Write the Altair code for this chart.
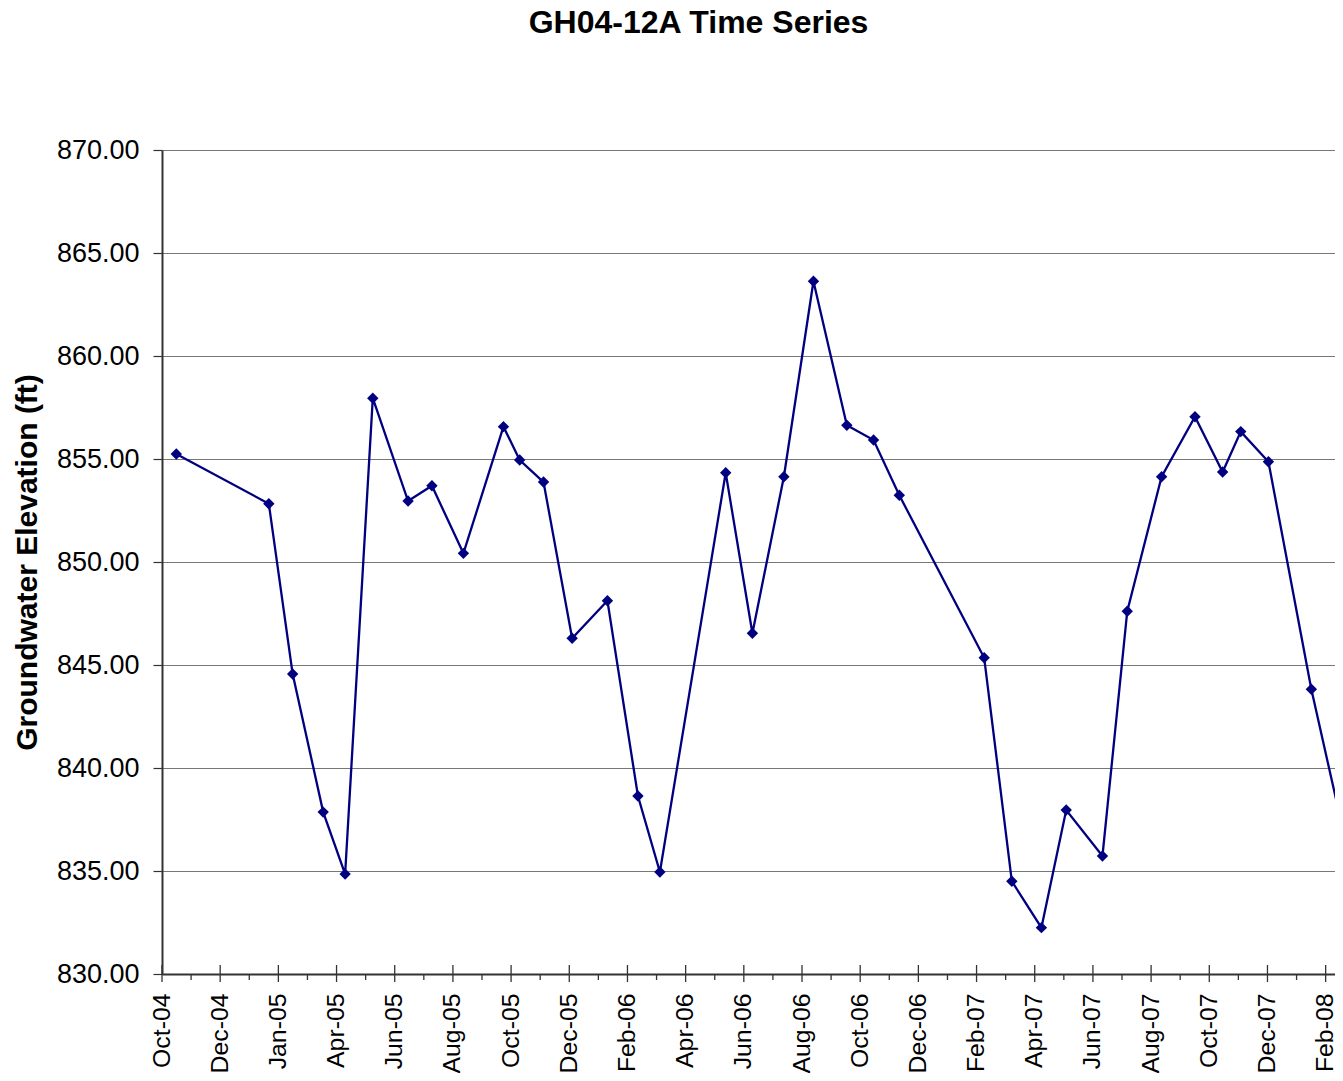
import altair as alt
import pandas as pd

# ---- data ----
dates = [
    "2004-10-16", "2005-01-21", "2005-02-15", "2005-03-19", "2005-04-11",
    "2005-05-10", "2005-06-16", "2005-07-11", "2005-08-13", "2005-09-24",
    "2005-10-11", "2005-11-05", "2005-12-05", "2006-01-11", "2006-02-12",
    "2006-03-07", "2006-05-15", "2006-06-12", "2006-07-15", "2006-08-15",
    "2006-09-19", "2006-10-17", "2006-11-13", "2007-02-10", "2007-03-11",
    "2007-04-11", "2007-05-07", "2007-06-14", "2007-07-10", "2007-08-15",
    "2007-09-19", "2007-10-18", "2007-11-06", "2007-12-05", "2008-01-19",
    "2008-02-21",
]
levels = [
    855.24, 852.83, 844.56, 837.86, 834.85,
    857.95, 852.96, 853.70, 850.42, 856.57,
    854.95, 853.88, 846.30, 848.12, 838.64,
    834.95, 854.33, 846.54, 854.14, 863.63,
    856.64, 855.92, 853.24, 845.35, 834.50,
    832.25, 837.96, 835.73, 847.61, 854.14,
    857.05, 854.37, 856.33, 854.87, 843.82,
    837.02,
]

# x-axis major tick dates (Excel date axis, 61-day major unit from 1-Oct-2004)
major_ticks = [
    "2004-10-01", "2004-12-01", "2005-01-31", "2005-04-02", "2005-06-02",
    "2005-08-02", "2005-10-02", "2005-12-02", "2006-02-01", "2006-04-03",
    "2006-06-03", "2006-08-03", "2006-10-03", "2006-12-03", "2007-02-02",
    "2007-04-04", "2007-06-04", "2007-08-04", "2007-10-04", "2007-12-04",
    "2008-02-03",
]
y_ticks = [830, 835, 840, 845, 850, 855, 860, 865, 870]

x_min = "2004-10-01"
x_max = "2008-02-12T19:12:00"   # visible right edge of the (cropped) plot


def ms(s):
    return int(pd.Timestamp(s, tz="UTC").value // 10**6)


# ---- tables ----
df = pd.DataFrame({"date": [ms(d) for d in dates], "level": levels})
major_ms = [ms(s) for s in major_ticks]
minor_ms = [(a + b) // 2 for a, b in zip(major_ms[:-1], major_ms[1:])]
df_major = pd.DataFrame({"date": major_ms})
df_minor = pd.DataFrame({"date": minor_ms})

W, H = 1173, 824
FONT = "Liberation Sans"
NAVY = "#000080"
AXIS_DARK = "#333333"

xscale = alt.Scale(type="utc", domain=[ms(x_min), ms(x_max)], nice=False)
yscale = alt.Scale(domain=[y_ticks[0], y_ticks[-1]], nice=False, zero=False)

x_axis = alt.Axis(
    values=major_ms,
    format="%b-%y",
    labelAngle=270,
    labelFont=FONT,
    labelFontSize=24.8,
    labelColor="black",
    labelPadding=19,
    labelFlush=False,
    labelOverlap=False,
    tickOpacity=0,
    tickSize=0,
    grid=False,
    domainColor=AXIS_DARK,
    domainWidth=2,
    title=None,
)
y_axis = alt.Axis(
    values=y_ticks,
    format=".2f",
    labelFont=FONT,
    labelFontSize=27,
    labelColor="black",
    labelPadding=14,
    tickSize=9,
    tickColor=AXIS_DARK,
    tickWidth=1.2,
    domainColor=AXIS_DARK,
    domainWidth=2,
    grid=True,
    gridColor="#777777",
    gridWidth=1,
    title="Groundwater Elevation (ft)",
    titleFont=FONT,
    titleFontSize=30,
    titleFontWeight="bold",
    titleColor="black",
    titlePadding=14,
)

base = alt.Chart(df).encode(
    x=alt.X("date:T", scale=xscale, axis=x_axis),
    y=alt.Y("level:Q", scale=yscale, axis=y_axis),
)
line = base.mark_line(color=NAVY, strokeWidth=2.3, clip=True)
pts = base.mark_point(
    shape="diamond", filled=True, size=130, color=NAVY, opacity=1, clip=True
)

major_rules = alt.Chart(df_major).mark_rule(color=AXIS_DARK, strokeWidth=1.3).encode(
    x=alt.X("date:T", scale=xscale, axis=x_axis),
    y=alt.value(H - 9),
    y2=alt.value(H + 8),
)
minor_rules = alt.Chart(df_minor).mark_rule(color=AXIS_DARK, strokeWidth=1.3).encode(
    x=alt.X("date:T", scale=xscale, axis=x_axis),
    y=alt.value(H),
    y2=alt.value(H + 6),
)

chart = (
    alt.layer(line, pts, major_rules, minor_rules)
    .properties(
        width=W,
        height=H,
        autosize=alt.AutoSizeParams(type="none"),
        padding={"left": 154, "top": 142, "right": 0, "bottom": 99},
        title=alt.TitleParams(
            "GH04-12A Time Series",
            font=FONT,
            fontSize=32,
            fontWeight="bold",
            color="black",
            anchor="middle",
            frame="group",
            baseline="alphabetic",
            offset=71,
            dx=-50,
        ),
        background="white",
    )
    .configure_view(stroke=None)
)

chart.save("out.html", embed_options={"renderer": "svg", "actions": False})
